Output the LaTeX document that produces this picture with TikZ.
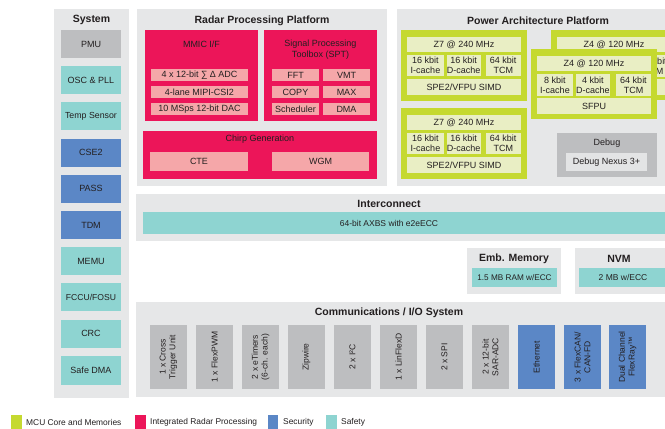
\documentclass[tikz,border=0pt]{standalone}
\usepackage{fontspec}
\setmainfont{Liberation Sans}
\definecolor{panel}{HTML}{E6E7E8}
\definecolor{grayb}{HTML}{BDBEC0}
\definecolor{cyanb}{HTML}{8ED4D1}
\definecolor{blueb}{HTML}{5B87C6}
\definecolor{redb}{HTML}{EC1559}
\definecolor{pinkb}{HTML}{F5A7A9}
\definecolor{limeb}{HTML}{C5D930}
\definecolor{creamb}{HTML}{E9EEC4}
\definecolor{dbgin}{HTML}{E3E4E5}
\definecolor{txt}{HTML}{231F20}
\newcommand\bx[7]{%
  \pgfmathsetmacro\bxcx{(#2+#4)/2}\pgfmathsetmacro\bxcy{(#3+#5)/2}%
  \pgfmathsetmacro\bxw{#4-#2}\pgfmathsetmacro\bxh{#5-#3}%
  \node[inner sep=0pt, outer sep=0pt, align=center, minimum width=\bxw pt, minimum height=\bxh pt, #6] (#1) at (\bxcx,\bxcy) {#7};}
\begin{document}
\begin{tikzpicture}[x=1pt,y=-1pt,
  every node/.style={text=txt, font=\fontsize{9}{10}\selectfont},
  ttl/.style={font=\fontsize{10.5}{12}\selectfont\bfseries, inner sep=0pt},
  lbl/.style={inner sep=0pt, align=center},
  pnl/.style={fill=panel},
  gry/.style={fill=grayb},
  cyn/.style={fill=cyanb},
  blu/.style={fill=blueb},
  red/.style={fill=redb},
  pnk/.style={fill=pinkb},
  lim/.style={fill=limeb},
  crm/.style={fill=creamb},
  small/.style={font=\fontsize{8.5}{10}\selectfont},
  vert/.style={rotate=90, inner sep=0pt, align=center, font=\fontsize{8.5}{9.8}\selectfont},
  leg/.style={anchor=west, inner sep=0pt, font=\fontsize{8.4}{10}\selectfont}]
\useasboundingbox (0,0) rectangle (665,429);
\clip (0,0) rectangle (665,429);
\fill[white] (0,0) rectangle (665,429);

% ---------------- System ----------------
\bx{sys}{54}{9}{129}{398}{pnl}{}
\node[ttl] (systitle) at (91.5,20) {System};
\bx{pmu}{61}{30}{121}{58}{gry}{PMU}
\bx{osc}{61}{66.2}{121}{94.2}{cyn}{OSC \& PLL}
\bx{temp}{61}{102.4}{121}{130.4}{cyn, font=\fontsize{8.8}{10}\selectfont}{Temp Sensor}
\bx{cse}{61}{138.6}{121}{166.6}{blu}{CSE2}
\bx{pass}{61}{174.8}{121}{202.8}{blu}{PASS}
\bx{tdm}{61}{211}{121}{239}{blu}{TDM}
\bx{memu}{61}{247.2}{121}{275.2}{cyn}{MEMU}
\bx{fccu}{61}{283.4}{121}{311.4}{cyn, font=\fontsize{8.6}{10}\selectfont}{FCCU/FOSU}
\bx{crc}{61}{319.6}{121}{347.6}{cyn}{CRC}
\bx{sdma}{61}{355.8}{121}{384.8}{cyn}{Safe DMA}

% ---------------- Radar ----------------
\bx{radar}{137}{9}{387}{186}{pnl}{}
\node[ttl] (radartitle) at (262,21) {Radar Processing Platform};
\bx{mmic}{145}{30}{258}{121}{red}{}
\node[lbl] (mmictitle) at (201.5,44) {MMIC I/F};
\bx{adc}{151}{69}{248}{81}{pnk}{4 x 12-bit ∑ Δ ADC}
\bx{mipi}{151}{86}{248}{98}{pnk}{4-lane MIPI-CSI2}
\bx{dac}{151}{103}{248}{115}{pnk}{10 MSps 12-bit DAC}
\bx{spt}{264}{30}{377}{121}{red}{}
\node[lbl, font=\fontsize{9}{11}\selectfont] (spttitle) at (320.5,49.5) {Signal Processing\\Toolbox (SPT)};
\bx{fft}{272}{69}{319}{81}{pnk}{FFT}
\bx{vmt}{323}{69}{370}{81}{pnk}{VMT}
\bx{copy}{272}{86}{319}{98}{pnk}{COPY}
\bx{max}{323}{86}{370}{98}{pnk}{MAX}
\bx{sched}{272}{103}{319}{115}{pnk}{Scheduler}
\bx{dma}{323}{103}{370}{115}{pnk}{DMA}
\bx{chirp}{143}{131}{377}{179}{red}{}
\node[lbl] (chirptitle) at (260,139) {Chirp Generation};
\bx{cte}{150}{152}{248}{171}{pnk}{CTE}
\bx{wgm}{272}{152}{369}{171}{pnk}{WGM}

% ---------------- Power Architecture ----------------
\bx{power}{397}{9}{700}{186}{pnl}{}
\node[ttl] (powertitle) at (538,21) {Power Architecture Platform};
% Z7 a
\bx{zsa}{401}{30}{527}{101}{lim}{}
\bx{zsahd}{407}{37}{521}{52}{crm}{Z7 @ 240 MHz}
\bx{zsaic}{407}{55}{444}{76}{crm}{16 kbit\\I-cache}
\bx{zsadc}{446.5}{55}{481}{76}{crm}{16 kbit\\D-cache}
\bx{zsatc}{485.5}{55}{521}{76}{crm}{64 kbit\\TCM}
\bx{zsasp}{407}{79}{521}{95}{crm}{SPE2/VFPU SIMD}
% Z7 b
\bx{zsb}{401}{108}{527}{179}{lim}{}
\bx{zsbhd}{407}{115}{521}{130}{crm}{Z7 @ 240 MHz}
\bx{zsbic}{407}{133}{444}{154}{crm}{16 kbit\\I-cache}
\bx{zsbdc}{446.5}{133}{481}{154}{crm}{16 kbit\\D-cache}
\bx{zsbtc}{485.5}{133}{521}{154}{crm}{64 kbit\\TCM}
\bx{zsbsp}{407}{157}{521}{173}{crm}{SPE2/VFPU SIMD}
% Z4 back (mostly hidden by the front one)
\bx{zfa}{551}{30}{677}{100}{lim}{}
\bx{zfahd}{557}{37}{671}{52}{crm}{}
\node[lbl] (zfahdt) at (614,44.5) {Z4 @ 120 MHz};
\bx{zfaic}{557}{55}{593}{77}{crm}{}
\bx{zfadc}{596}{55}{630}{77}{crm}{}
\bx{zfatc}{636}{55}{671}{77}{crm}{64 kbit\\TCM}
\bx{zfasf}{557}{79}{671}{95}{crm}{}
% Z4 front
\bx{zfb}{531}{49}{657}{119}{lim}{}
\bx{zfbhd}{537}{56}{651}{71}{crm}{Z4 @ 120 MHz}
\bx{zfbic}{537}{74}{573}{96}{crm}{8 kbit\\I-cache}
\bx{zfbdc}{576}{74}{610}{96}{crm}{4 kbit\\D-cache}
\bx{zfbtc}{616}{74}{651}{96}{crm}{64 kbit\\TCM}
\bx{zfbsf}{537}{98}{651}{114}{crm}{SFPU}
% Debug
\bx{dbg}{557}{133}{657}{177}{gry}{}
\node[lbl] (dbgtitle) at (607,143) {Debug};
\bx{nexus}{566}{153}{647}{171}{fill=dbgin}{Debug Nexus 3+}

% ---------------- Interconnect ----------------
\bx{inter}{136}{194}{700}{241}{pnl}{}
\node[ttl] (intertitle) at (389,204) {Interconnect};
\bx{axbs}{143}{212}{700}{234}{cyn}{}
\node[lbl, small] (axbstext) at (389,223) {64-bit AXBS with e2eECC};

% ---------------- Memories ----------------
\bx{emb}{467}{248}{561}{294}{pnl}{}
\node[ttl] (embtitle) at (514,259) {Emb. Memory};
\bx{ram}{472}{268}{557}{287}{cyn, font=\fontsize{8.2}{10}\selectfont}{1.5 MB RAM w/ECC}
\bx{nvm}{575}{248}{700}{294}{pnl}{}
\node[ttl] (nvmtitle) at (619,259) {NVM};
\bx{nvmin}{579}{268}{700}{287}{cyn}{}
\node[lbl, small] (nvmtext) at (623,277.5) {2 MB w/ECC};

% ---------------- Communications ----------------
\bx{comm}{136}{302}{700}{397}{pnl}{}
\node[ttl] (commtitle) at (389,313) {Communications / I/O System};
\bx{c1}{150}{325}{187}{389}{gry}{}
\node[vert] (c1t) at (c1.center) {1 x Cross\\Trigger Unit};
\bx{c2}{196}{325}{233}{389}{gry}{}
\node[vert] (c2t) at (c2.center) {1 x FlexPWM};
\bx{c3}{242}{325}{279}{389}{gry}{}
\node[vert] (c3t) at (c3.center) {2 x eTimers\\(6-ch. each)};
\bx{c4}{288}{325}{325}{389}{gry}{}
\node[vert] (c4t) at (c4.center) {Zipwire};
\bx{c5}{334}{325}{371}{389}{gry}{}
\node[vert] (c5t) at (c5.center) {2 x I²C};
\bx{c6}{380}{325}{417}{389}{gry}{}
\node[vert] (c6t) at (c6.center) {1 x LinFlexD};
\bx{c7}{426}{325}{463}{389}{gry}{}
\node[vert] (c7t) at (c7.center) {2 x SPI};
\bx{c8}{472}{325}{509}{389}{gry}{}
\node[vert] (c8t) at (c8.center) {2 x 12-bit\\SAR-ADC};
\bx{c9}{518}{325}{555}{389}{blu}{}
\node[vert] (c9t) at (c9.center) {Ethernet};
\bx{c10}{564}{325}{601}{389}{blu}{}
\node[vert] (c10t) at (c10.center) {3 x FlexCAN/\\CAN-FD};
\bx{c11}{609}{325}{646}{389}{blu}{}
\node[vert] (c11t) at (c11.center) {Dual Channel\\FlexRay™};

% ---------------- Legend ----------------
\bx{lg1}{11}{415}{22}{429}{lim}{}
\node[leg] (lg1t) at (26,422) {MCU Core and Memories};
\bx{lg2}{135}{415}{146}{429}{red}{}
\node[leg] (lg2t) at (150,422) {Integrated Radar Processing};
\bx{lg3}{268}{415}{278}{429}{blu}{}
\node[leg] (lg3t) at (283,422) {Security};
\bx{lg4}{326}{415}{337}{429}{cyn}{}
\node[leg] (lg4t) at (341,422) {Safety};
\end{tikzpicture}
\end{document}
